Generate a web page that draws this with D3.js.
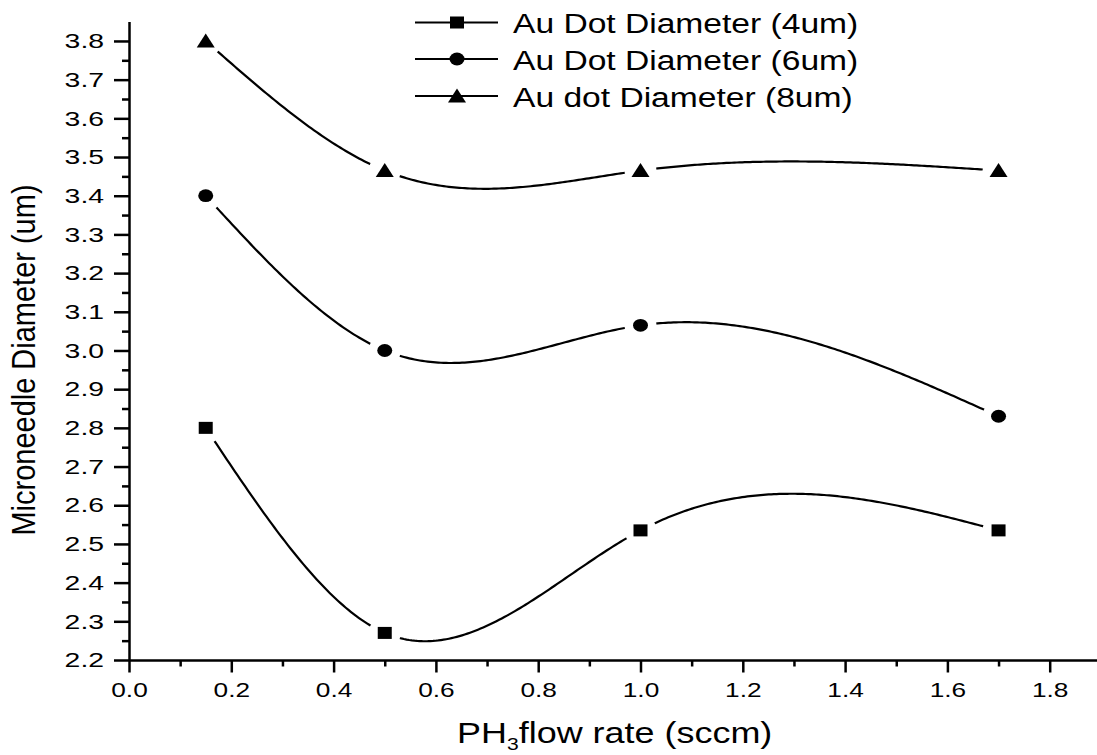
<!DOCTYPE html>
<html>
<head>
<meta charset="utf-8">
<script src="https://cdn.jsdelivr.net/npm/d3@7"></script>
<style>
  body { margin: 0; background: #fff; }
  text { font-family: "Liberation Sans", Arial, sans-serif; fill: #000; }
</style>
</head>
<body>
<svg id="chart" width="1097" height="755"></svg>
<script>
// Measured microneedle diameters vs PH3 flow rate
const flowRate = [0.15, 0.5, 1.0, 1.7];
const dia4um = [2.8, 2.27, 2.535, 2.535];
const dia6um = [3.4, 3.0, 3.065, 2.83];
const dia8um = [3.8, 3.465, 3.465, 3.465];
const seriesNames = ["Au Dot Diameter (4um)", "Au Dot Diameter (6um)", "Au dot Diameter (8um)"];
const markerTypes = ["square", "circle", "triangle"];
const xTicks = [0.0, 0.2, 0.4, 0.6, 0.8, 1.0, 1.2, 1.4, 1.6, 1.8];
const yTicks = [2.2, 2.3, 2.4, 2.5, 2.6, 2.7, 2.8, 2.9, 3.0, 3.1, 3.2, 3.3, 3.4, 3.5, 3.6, 3.7, 3.8];
const xMinor = [0.1, 0.3, 0.5, 0.7, 0.9, 1.1, 1.3, 1.5, 1.7];
const yMinor = [2.25, 2.35, 2.45, 2.55, 2.65, 2.75, 2.85, 2.95, 3.05, 3.15, 3.25, 3.35, 3.45, 3.55, 3.65, 3.75];

const series = [dia4um, dia6um, dia8um];

const svg = d3.select("#chart");
svg.append("rect").attr("width", 1097).attr("height", 755).attr("fill", "#fff");

const x = d3.scaleLinear().domain([0, 1.9]).range([129, 129 + 1.9 * 511.5]);
const y = d3.scaleLinear().domain([2.2, 3.85]).range([660, 660 - 1.65 * 386.9]);

// natural cubic spline through the data points (y as a function of x)
function naturalSpline(xs, ys) {
  const n = xs.length;
  const h = [];
  for (let i = 0; i < n - 1; i++) h.push(xs[i + 1] - xs[i]);
  const M = new Array(n).fill(0);
  // tridiagonal system for interior second derivatives
  const m = n - 2;
  if (m > 0) {
    const diag = [], up = [], low = [], rhs = [];
    for (let i = 1; i <= m; i++) {
      diag.push(2 * (h[i - 1] + h[i]));
      up.push(h[i]);
      low.push(h[i - 1]);
      rhs.push(6 * ((ys[i + 1] - ys[i]) / h[i] - (ys[i] - ys[i - 1]) / h[i - 1]));
    }
    for (let i = 1; i < m; i++) {
      const w = low[i] / diag[i - 1];
      diag[i] -= w * up[i - 1];
      rhs[i] -= w * rhs[i - 1];
    }
    const sol = new Array(m);
    sol[m - 1] = rhs[m - 1] / diag[m - 1];
    for (let i = m - 2; i >= 0; i--) sol[i] = (rhs[i] - up[i] * sol[i + 1]) / diag[i];
    for (let i = 0; i < m; i++) M[i + 1] = sol[i];
  }
  return function (t) {
    let i = 0;
    while (i < n - 2 && t > xs[i + 1]) i++;
    const hi = h[i], A = (xs[i + 1] - t) / hi, B = (t - xs[i]) / hi;
    return A * ys[i] + B * ys[i + 1] + ((A * A * A - A) * M[i] + (B * B * B - B) * M[i + 1]) * hi * hi / 6;
  };
}

// marker drawing
function drawMarker(g, type, cx, cy) {
  if (type === "square") {
    g.append("rect").attr("x", cx - 7).attr("y", cy - 6).attr("width", 14).attr("height", 12).attr("fill", "#000");
  } else if (type === "circle") {
    g.append("ellipse").attr("cx", cx).attr("cy", cy).attr("rx", 7.5).attr("ry", 6.4).attr("fill", "#000");
  } else {
    g.append("path").attr("d", `M${cx - 9},${cy + 6.5}L${cx + 9},${cy + 6.5}L${cx},${cy - 7.5}Z`).attr("fill", "#000");
  }
}

// gaps in the curves around each marker
const defs = svg.append("defs");
const mask = defs.append("mask").attr("id", "markerGap").attr("maskUnits", "userSpaceOnUse")
  .attr("x", 0).attr("y", 0).attr("width", 1097).attr("height", 755);
mask.append("rect").attr("width", 1097).attr("height", 755).attr("fill", "#fff");
series.forEach(vals => {
  vals.forEach((v, i) => {
    mask.append("circle").attr("cx", x(flowRate[i])).attr("cy", y(v)).attr("r", 16).attr("fill", "#000");
  });
});

// axes
const fmt = d3.format(".1f");
const ySx = 1.35, xSx = 1.25;

const yAxis = svg.append("g").attr("transform", `translate(${x(0)},0)`)
  .call(d3.axisLeft(y).tickValues(yTicks).tickSize(15).tickSizeOuter(0).tickPadding(10).tickFormat(fmt));
yAxis.selectAll("text").attr("font-size", 21).attr("font-family", '"Liberation Sans", Arial, sans-serif')
  .attr("x", -25 / ySx).attr("transform", `scale(${ySx},1)`);
svg.append("g").attr("transform", `translate(${x(0)},0)`)
  .call(d3.axisLeft(y).tickValues(yMinor).tickSize(7).tickSizeOuter(0).tickFormat(""))
  .select(".domain").remove();

const xAxis = svg.append("g").attr("transform", `translate(0,${y(2.2)})`)
  .call(d3.axisBottom(x).tickValues(xTicks).tickSize(12.5).tickSizeOuter(0).tickPadding(10).tickFormat(fmt));
// labels scaled horizontally about each tick position
xAxis.selectAll(".tick text").attr("font-size", 21).attr("font-family", '"Liberation Sans", Arial, sans-serif')
  .attr("transform", `scale(${xSx},1)`);
svg.append("g").attr("transform", `translate(0,${y(2.2)})`)
  .call(d3.axisBottom(x).tickValues(xMinor).tickSize(6.5).tickSizeOuter(0).tickFormat(""))
  .select(".domain").remove();

svg.selectAll(".domain, .tick line").attr("stroke", "#000").attr("stroke-width", 2.5);

// curves
const line = d3.line().x(d => x(d[0])).y(d => y(d[1]));
const plot = svg.append("g");
series.forEach((vals, si) => {
  const f = naturalSpline(flowRate, vals);
  const x0 = flowRate[0], x1 = flowRate[flowRate.length - 1];
  const pts = d3.range(0, 301).map(k => { const t = x0 + (x1 - x0) * k / 300; return [t, f(t)]; });
  plot.append("path").attr("d", line(pts)).attr("fill", "none").attr("stroke", "#000")
    .attr("stroke-width", 2.2).attr("mask", "url(#markerGap)");
  vals.forEach((v, i) => drawMarker(plot, markerTypes[si], x(flowRate[i]), y(v)));
});

// legend
const legend = svg.append("g");
const legendRows = [22.5, 59, 96];
seriesNames.forEach((name, i) => {
  const ly = legendRows[i];
  legend.append("line").attr("x1", 415).attr("x2", 498).attr("y1", ly).attr("y2", ly)
    .attr("stroke", "#000").attr("stroke-width", 2.2);
  drawMarker(legend, markerTypes[i], 457, ly);
  legend.append("text").attr("transform", `translate(513,${ly + 10.5}) scale(1.2,1)`)
    .attr("font-size", 28).text(name);
});

// axis titles
svg.append("text").attr("transform", "translate(35,360) rotate(-90) scale(1,1.12)")
  .attr("text-anchor", "middle").attr("font-size", 29).text("Microneedle Diameter (um)");

const xt = svg.append("text").attr("transform", "translate(457,743) scale(1.24,1)").attr("font-size", 29);
xt.append("tspan").text("PH");
xt.append("tspan").attr("font-size", 17).attr("dy", 7).text("3");
xt.append("tspan").attr("dy", -7).text("flow rate (sccm)");
</script>
</body>
</html>
